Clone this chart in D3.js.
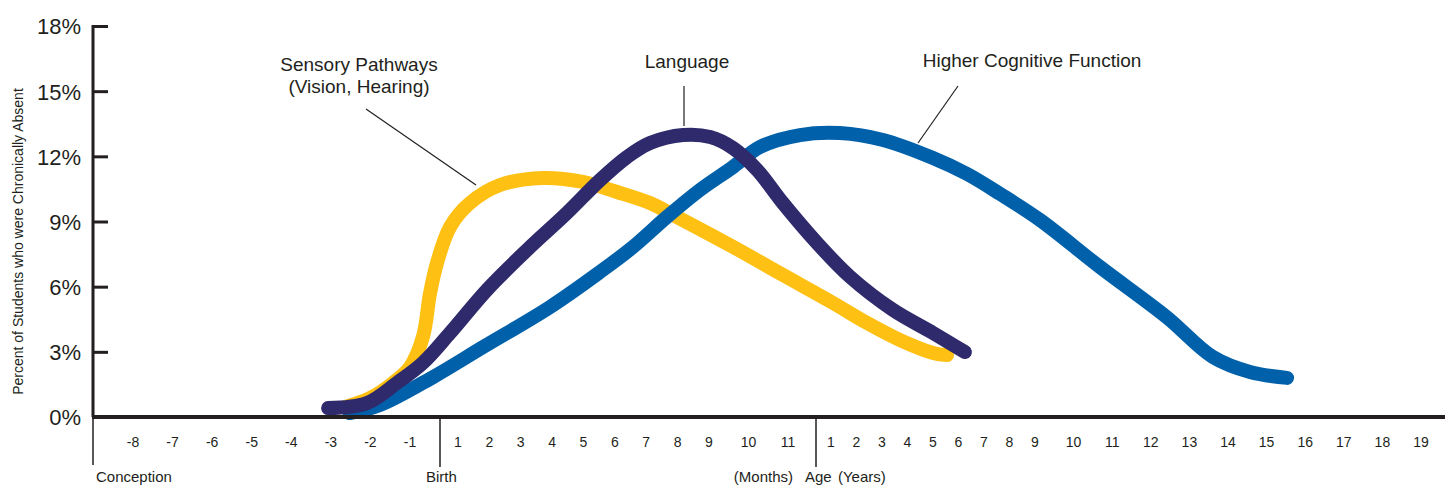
<!DOCTYPE html>
<html>
<head>
<meta charset="utf-8">
<script src="https://cdnjs.cloudflare.com/ajax/libs/d3/7.8.5/d3.min.js"></script>
<style>
    body { margin: 0; background: #fff; }
    svg { display: block; }
    text { font-family: "Liberation Sans", Arial, sans-serif; fill: #231f20; }
</style>
</head>
<body>
<svg id="chart" width="1445" height="485"></svg>
<script>

// timeline units: prenatal months -9..0 (0 = birth), postnatal months 1..11,
// 12 = age line, years are placed at 12 + year
var yTicks = [0, 3, 6, 9, 12, 15, 18];
var prenatalTicks = [-8, -7, -6, -5, -4, -3, -2, -1];
var monthTicks = [1, 2, 3, 4, 5, 6, 7, 8, 9, 10, 11];
var yearTicks = [1, 2, 3, 4, 5, 6, 7, 8, 9, 10, 11, 12, 13, 14, 15, 16, 17, 18, 19];

var sensory = [
    [-2.64, 0.46], [-2.01, 0.87], [-1.43, 1.57], [-1.0, 2.30], [-0.57, 3.68],
    [-0.33, 5.71], [-0.1, 7.09], [0.56, 8.75], [1.38, 9.85], [2.34, 10.68],
    [3.71, 11.0], [4.98, 10.82], [6.07, 10.36], [7.12, 9.85], [7.98, 9.21],
    [9.61, 7.83], [10.87, 6.54], [13.08, 5.25], [14.41, 4.33], [15.71, 3.54],
    [17.0, 2.95], [17.55, 2.85]
];

var language = [
    [-3.07, 0.41], [-2.09, 0.64], [-1.33, 1.57], [-0.57, 2.49], [0.56, 3.87],
    [1.92, 5.85], [3.20, 7.69], [4.47, 9.39], [5.53, 10.91], [6.39, 11.97],
    [7.12, 12.61], [8.17, 12.98], [9.03, 12.89], [9.61, 12.38], [10.22, 11.37],
    [10.87, 9.85], [12.07, 8.01], [13.75, 6.45], [15.43, 4.93], [17.0, 3.87],
    [18.25, 2.99]
];

var cognitive = [
    [-2.52, 0.18], [-1.76, 0.55], [-0.23, 1.84], [1.80, 3.22], [3.93, 5.06],
    [5.53, 6.68], [6.58, 7.83], [7.66, 9.21], [8.71, 10.45], [9.61, 11.51],
    [10.29, 12.43], [11.43, 12.98], [13.35, 13.07], [15.04, 12.75], [17.0, 11.92],
    [18.33, 11.19], [19.63, 10.27], [21.13, 9.07], [22.68, 6.91], [24.41, 4.60],
    [25.61, 2.76], [26.57, 2.07], [27.53, 1.80]
];

var series = [
    { name: "sensory", data: sensory, color: "#ffc014" },
    { name: "cognitive", data: cognitive, color: "#0061aa" },
    { name: "language", data: language, color: "#2e2a6c" }
];

var svg = d3.select("#chart");

// the printed axis is not evenly spaced, so the scale is piecewise
var x = d3.scaleLinear()
    .domain([-9, -8, -1, 0, 1, 9, 11, 12, 13, 21, 31])
    .range([93, 133, 410, 440, 458, 709, 788, 816, 831, 1035, 1421]);

var y = d3.scaleLinear()
    .domain([0, 18])
    .range([417, 26]);

// y axis
var yAxis = d3.axisRight(y)
    .tickValues(yTicks)
    .tickSize(15)
    .tickFormat(function (d) { return d + "%"; });

var gy = svg.append("g")
    .attr("transform", "translate(" + x(-9) + ",0)")
    .call(yAxis);
gy.select(".domain").remove();
gy.selectAll(".tick line").attr("stroke", "#231f20").attr("stroke-width", 3);
gy.selectAll(".tick text")
    .attr("x", -12)
    .attr("dy", "0.36em")
    .style("text-anchor", "end")
    .style("font-size", "22px");

svg.append("line")
    .attr("x1", x(-9)).attr("x2", x(-9))
    .attr("y1", y(18) - 1).attr("y2", y(0))
    .attr("stroke", "#231f20").attr("stroke-width", 3);

svg.append("text")
    .attr("transform", "translate(23," + ((y(0) + y(18)) / 2 + 20) + ") rotate(-90)")
    .style("text-anchor", "middle")
    .style("font-size", "14px")
    .text("Percent of Students who were Chronically Absent");

// curves
var line = d3.line()
    .x(function (d) { return x(d[0]); })
    .y(function (d) { return y(d[1]); })
    .curve(d3.curveCatmullRom.alpha(0.5));

svg.selectAll(".curve")
    .data(series)
    .enter()
    .append("path")
    .attr("class", "curve")
    .attr("d", function (d) { return line(d.data); })
    .attr("fill", "none")
    .attr("stroke", function (d) { return d.color; })
    .attr("stroke-width", 14)
    .attr("stroke-linecap", "round")
    .attr("stroke-linejoin", "round");

// x axis baseline
svg.append("line")
    .attr("x1", x(-9) - 1).attr("x2", 1445)
    .attr("y1", y(0)).attr("y2", y(0))
    .attr("stroke", "#231f20").attr("stroke-width", 4);

// stage separators
[[-9, 465], [0, 467], [12, 467]].forEach(function (s) {
    svg.append("line")
        .attr("x1", x(s[0])).attr("x2", x(s[0]))
        .attr("y1", y(0)).attr("y2", s[1])
        .attr("stroke", "#231f20").attr("stroke-width", 1.5);
});

var tickPos = prenatalTicks.map(function (d) { return { t: d, label: d }; })
    .concat(monthTicks.map(function (d) { return { t: d, label: d }; }))
    .concat(yearTicks.map(function (d) { return { t: 12 + d, label: d }; }));

svg.selectAll(".xlab")
    .data(tickPos)
    .enter()
    .append("text")
    .attr("class", "xlab")
    .attr("x", function (d) { return x(d.t); })
    .attr("y", 447)
    .style("text-anchor", "middle")
    .style("font-size", "14px")
    .text(function (d) { return d.label; });

var stageLabels = [
    { t: -9, dx: 3, anchor: "start", text: "Conception" },
    { t: 0, dx: -14, anchor: "start", text: "Birth" },
    { t: 12, dx: -23, anchor: "end", text: "(Months)" },
    { t: 12, dx: -11, anchor: "start", text: "Age" },
    { t: 12, dx: 22, anchor: "start", text: "(Years)" }
];

svg.selectAll(".stage")
    .data(stageLabels)
    .enter()
    .append("text")
    .attr("class", "stage")
    .attr("x", function (d) { return x(d.t) + d.dx; })
    .attr("y", 482)
    .style("text-anchor", function (d) { return d.anchor; })
    .style("font-size", "15px")
    .text(function (d) { return d.text; });

// annotations
var notes = svg.append("g").style("font-size", "19px").style("text-anchor", "middle");

notes.append("text").attr("x", 359).attr("y", 71).text("Sensory Pathways");
notes.append("text").attr("x", 359).attr("y", 93).text("(Vision, Hearing)");
notes.append("text").attr("x", 687).attr("y", 68).text("Language");
notes.append("text").attr("x", 1032).attr("y", 67).text("Higher Cognitive Function");

var leaders = [
    [366, 109, 476, 185],
    [684, 86, 684, 126],
    [958, 86, 918, 143]
];

svg.selectAll(".leader")
    .data(leaders)
    .enter()
    .append("line")
    .attr("class", "leader")
    .attr("x1", function (d) { return d[0]; })
    .attr("y1", function (d) { return d[1]; })
    .attr("x2", function (d) { return d[2]; })
    .attr("y2", function (d) { return d[3]; })
    .attr("stroke", "#231f20")
    .attr("stroke-width", 1.2);

</script>
</body>
</html>
